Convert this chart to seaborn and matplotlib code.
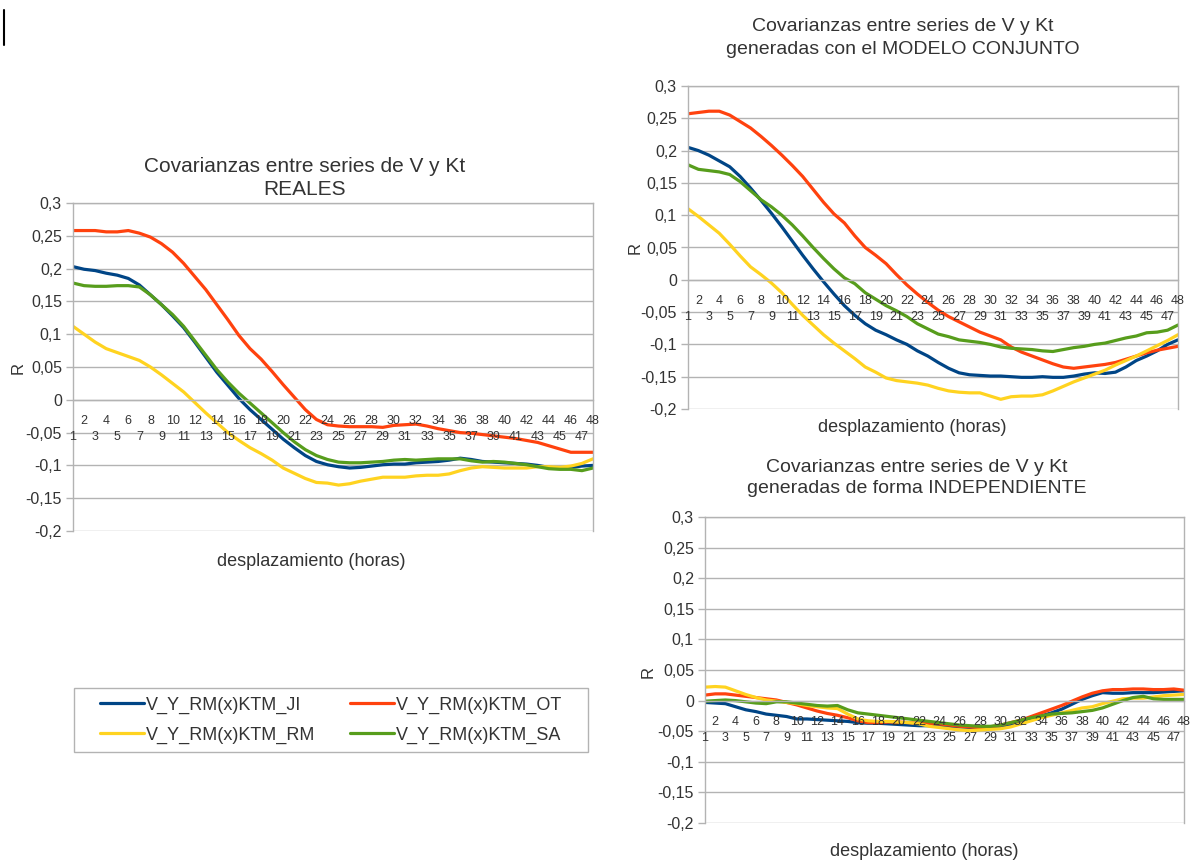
import numpy as np
import pandas as pd
import matplotlib
matplotlib.use("Agg")
import matplotlib.pyplot as plt
import seaborn as sns
from matplotlib.lines import Line2D
from matplotlib.patches import Rectangle

sns.set_style("white")
plt.rcParams['font.family'] = ['Liberation Sans', 'DejaVu Sans']

# ---------------- data ----------------
lags = list(range(1, 49))
series_names = ["V_Y_RM(x)KTM_JI", "V_Y_RM(x)KTM_OT", "V_Y_RM(x)KTM_RM", "V_Y_RM(x)KTM_SA"]
series_colors = ["#004586", "#ff420e", "#ffd320", "#579d1c"]
y_tick_values = [-0.2, -0.15, -0.1, -0.05, 0.0, 0.05, 0.1, 0.15, 0.2, 0.25, 0.3]
y_tick_labels = ["-0,2", "-0,15", "-0,1", "-0,05", "0", "0,05", "0,1", "0,15", "0,2", "0,25", "0,3"]

# REALES
reales_ji = [0.203, 0.199, 0.197, 0.193, 0.190, 0.185, 0.175, 0.160, 0.145, 0.128, 0.110, 0.088,
             0.065, 0.042, 0.022, 0.002, -0.015, -0.030, -0.045, -0.060, -0.073, -0.085, -0.094, -0.099,
             -0.102, -0.104, -0.103, -0.101, -0.099, -0.098, -0.098, -0.096, -0.095, -0.094, -0.092, -0.089,
             -0.091, -0.094, -0.095, -0.096, -0.097, -0.098, -0.100, -0.103, -0.104, -0.103, -0.101, -0.100]
reales_ot = [0.258, 0.258, 0.258, 0.256, 0.256, 0.258, 0.254, 0.248, 0.238, 0.225, 0.208, 0.188,
             0.168, 0.145, 0.122, 0.098, 0.078, 0.062, 0.043, 0.023, 0.004, -0.015, -0.030, -0.038,
             -0.040, -0.041, -0.041, -0.041, -0.042, -0.039, -0.038, -0.037, -0.040, -0.044, -0.047, -0.050,
             -0.051, -0.053, -0.055, -0.057, -0.059, -0.062, -0.065, -0.070, -0.075, -0.080, -0.080, -0.080]
reales_rm = [0.112, 0.100, 0.088, 0.078, 0.072, 0.066, 0.060, 0.050, 0.038, 0.025, 0.012, -0.004,
             -0.020, -0.035, -0.050, -0.062, -0.073, -0.082, -0.092, -0.104, -0.112, -0.120, -0.126, -0.127,
             -0.130, -0.128, -0.124, -0.121, -0.118, -0.118, -0.118, -0.116, -0.115, -0.115, -0.113, -0.108,
             -0.104, -0.102, -0.103, -0.104, -0.104, -0.104, -0.102, -0.102, -0.103, -0.101, -0.097, -0.090]
reales_sa = [0.178, 0.174, 0.173, 0.173, 0.174, 0.174, 0.172, 0.160, 0.145, 0.130, 0.112, 0.090,
             0.068, 0.046, 0.027, 0.010, -0.005, -0.020, -0.035, -0.050, -0.064, -0.076, -0.085, -0.091,
             -0.095, -0.096, -0.096, -0.095, -0.094, -0.092, -0.091, -0.092, -0.091, -0.090, -0.090, -0.090,
             -0.093, -0.095, -0.094, -0.095, -0.097, -0.099, -0.102, -0.105, -0.106, -0.106, -0.108, -0.104]

# MODELO CONJUNTO
conj_ji = [0.205, 0.200, 0.193, 0.184, 0.175, 0.160, 0.142, 0.123, 0.103, 0.082, 0.060, 0.038,
           0.017, -0.003, -0.022, -0.040, -0.055, -0.068, -0.078, -0.085, -0.093, -0.100, -0.110, -0.118,
           -0.128, -0.137, -0.144, -0.147, -0.148, -0.149, -0.149, -0.150, -0.151, -0.151, -0.150, -0.151,
           -0.151, -0.149, -0.146, -0.144, -0.145, -0.143, -0.135, -0.125, -0.118, -0.110, -0.100, -0.093]
conj_ot = [0.257, 0.259, 0.261, 0.261, 0.255, 0.245, 0.235, 0.222, 0.208, 0.193, 0.177, 0.160,
           0.140, 0.120, 0.102, 0.088, 0.068, 0.050, 0.038, 0.025, 0.008, -0.008, -0.022, -0.035,
           -0.047, -0.057, -0.065, -0.073, -0.081, -0.087, -0.093, -0.104, -0.112, -0.118, -0.124, -0.130,
           -0.135, -0.137, -0.135, -0.133, -0.131, -0.128, -0.123, -0.118, -0.113, -0.109, -0.106, -0.103]
conj_rm = [0.110, 0.098, 0.085, 0.072, 0.055, 0.037, 0.020, 0.008, -0.005, -0.020, -0.038, -0.055,
           -0.070, -0.085, -0.098, -0.110, -0.122, -0.135, -0.143, -0.152, -0.156, -0.158, -0.160, -0.163,
           -0.168, -0.172, -0.174, -0.175, -0.175, -0.180, -0.185, -0.181, -0.180, -0.180, -0.178, -0.172,
           -0.165, -0.158, -0.152, -0.146, -0.140, -0.132, -0.125, -0.118, -0.110, -0.102, -0.094, -0.085]
conj_sa = [0.178, 0.171, 0.169, 0.167, 0.163, 0.152, 0.138, 0.124, 0.113, 0.100, 0.085, 0.068,
           0.050, 0.033, 0.017, 0.003, -0.006, -0.020, -0.030, -0.040, -0.048, -0.057, -0.068, -0.076,
           -0.084, -0.088, -0.093, -0.095, -0.097, -0.100, -0.104, -0.106, -0.107, -0.108, -0.110, -0.111,
           -0.108, -0.105, -0.103, -0.100, -0.098, -0.094, -0.090, -0.087, -0.082, -0.081, -0.078, -0.070]

# INDEPENDIENTE
indep_ji = [-0.003, -0.004, -0.005, -0.010, -0.015, -0.018, -0.022, -0.024, -0.026, -0.030, -0.030, -0.031,
            -0.032, -0.033, -0.034, -0.036, -0.037, -0.037, -0.038, -0.039, -0.040, -0.041, -0.041, -0.042,
            -0.042, -0.043, -0.044, -0.044, -0.044, -0.043, -0.040, -0.035, -0.030, -0.025, -0.020, -0.014,
            -0.006, 0.002, 0.008, 0.013, 0.012, 0.012, 0.013, 0.013, 0.013, 0.014, 0.015, 0.016]
indep_ot = [0.009, 0.011, 0.011, 0.009, 0.007, 0.005, 0.003, 0.001, -0.003, -0.007, -0.012, -0.017,
            -0.021, -0.024, -0.028, -0.033, -0.036, -0.036, -0.035, -0.035, -0.036, -0.037, -0.037, -0.038,
            -0.040, -0.042, -0.043, -0.044, -0.043, -0.040, -0.036, -0.032, -0.026, -0.020, -0.014, -0.008,
            -0.001, 0.006, 0.012, 0.016, 0.018, 0.018, 0.019, 0.019, 0.018, 0.018, 0.019, 0.017]
indep_rm = [0.022, 0.023, 0.022, 0.016, 0.010, 0.005, 0.001, -0.001, -0.003, -0.005, -0.008, -0.010,
            -0.012, -0.013, -0.022, -0.030, -0.033, -0.034, -0.034, -0.035, -0.036, -0.038, -0.042, -0.044,
            -0.046, -0.048, -0.049, -0.048, -0.047, -0.046, -0.043, -0.038, -0.033, -0.028, -0.024, -0.020,
            -0.016, -0.012, -0.010, -0.005, -0.001, 0.003, 0.004, 0.004, 0.006, 0.008, 0.009, 0.010]
indep_sa = [-0.001, 0.000, 0.001, 0.000, -0.002, -0.004, -0.005, -0.002, -0.002, -0.004, -0.006, -0.008,
            -0.009, -0.008, -0.015, -0.020, -0.022, -0.024, -0.026, -0.028, -0.030, -0.032, -0.034, -0.036,
            -0.038, -0.040, -0.041, -0.042, -0.042, -0.040, -0.036, -0.032, -0.028, -0.025, -0.022, -0.021,
            -0.020, -0.018, -0.016, -0.012, -0.006, 0.000, 0.005, 0.007, 0.003, 0.002, 0.002, 0.002]

title_reales = "Covarianzas entre series de V y Kt\nREALES"
title_conj = "Covarianzas entre series de V y Kt\ngeneradas con el MODELO CONJUNTO"
title_indep = "Covarianzas entre series de V y Kt\ngeneradas de forma INDEPENDIENTE"
x_title = "desplazamiento (horas)"
y_title = "R"

# ---------------- figure ----------------
W, H = 1192, 861
fig = plt.figure(figsize=(W / 100, H / 100), dpi=100)
fig.patch.set_facecolor("white")

GRID = "#b3b3b3"
TXT = "#333333"
palette = dict(zip(series_names, series_colors))


def px_axes(l, t, r, b):
    return fig.add_axes([l / W, 1 - b / H, (r - l) / W, (b - t) / H])


def long_frame(ji, ot, rm, sa):
    parts = []
    for name, vals in zip(series_names, [ji, ot, rm, sa]):
        parts.append(pd.DataFrame({"lag": lags, "R": vals, "serie": name}))
    return pd.concat(parts, ignore_index=True)


def draw_panel(ax, df, label_fs=11.5, xt_fs=9, even_off=11.0, odd_off=22.5):
    sns.lineplot(data=df, x="lag", y="R", hue="serie", hue_order=series_names,
                 palette=palette, estimator=None, linewidth=2.3, legend=False, ax=ax)
    ax.set_xlim(1, 48)
    ax.set_ylim(-0.2, 0.3)
    ax.set_facecolor("white")
    ax.set_yticks(y_tick_values)
    ax.set_yticklabels(y_tick_labels, fontsize=label_fs, color=TXT)
    ax.yaxis.grid(True, color=GRID, linewidth=1)
    ax.xaxis.grid(False)
    ax.set_axisbelow(True)
    for s in ["left", "right", "top"]:
        ax.spines[s].set_color(GRID)
        ax.spines[s].set_linewidth(1)
    ax.spines["bottom"].set_position(("data", 0))
    ax.spines["bottom"].set_color(GRID)
    ax.spines["bottom"].set_linewidth(1)
    ax.set_xticks(lags)
    ax.set_xticklabels([])
    ax.tick_params(axis="x", length=5, direction="out", color=GRID, width=1)
    ax.tick_params(axis="y", length=5, direction="out", color=GRID, width=1, pad=3, left=True)
    ax.set_xlabel("")
    ax.set_ylabel("")
    for i in lags:
        off = even_off if i % 2 == 0 else odd_off
        ax.annotate(str(i), xy=(i, 0), xytext=(0, -off), textcoords="offset points",
                    ha="center", va="top", fontsize=xt_fs, color=TXT, annotation_clip=False)


# Left panel (REALES)
ax1 = px_axes(73, 203, 593, 531)
draw_panel(ax1, long_frame(reales_ji, reales_ot, reales_rm, reales_sa))
fig.text(305 / W, 1 - 178 / H, title_reales, ha="center", va="center", fontsize=15,
         color=TXT, linespacing=1.33)
fig.text(311 / W, 1 - 561 / H, x_title, ha="center", va="center", fontsize=13, color=TXT)
fig.text(18 / W, 1 - 368 / H, y_title, ha="center", va="center", fontsize=12, color=TXT, rotation=90)

# Top-right panel (MODELO CONJUNTO)
ax2 = px_axes(688, 86, 1178, 409)
draw_panel(ax2, long_frame(conj_ji, conj_ot, conj_rm, conj_sa))
fig.text(903 / W, 1 - 38 / H, title_conj, ha="center", va="center", fontsize=14,
         color=TXT, linespacing=1.42)
fig.text(912 / W, 1 - 428 / H, x_title, ha="center", va="center", fontsize=13, color=TXT)
fig.text(635 / W, 1 - 248 / H, y_title, ha="center", va="center", fontsize=12, color=TXT, rotation=90)

# Bottom-right panel (INDEPENDIENTE)
ax3 = px_axes(705, 517, 1184, 823)
draw_panel(ax3, long_frame(indep_ji, indep_ot, indep_rm, indep_sa))
fig.text(917 / W, 1 - 478 / H, title_indep, ha="center", va="center", fontsize=14,
         color=TXT, linespacing=1.25)
fig.text(924 / W, 1 - 851 / H, x_title, ha="center", va="center", fontsize=13, color=TXT)
fig.text(648 / W, 1 - 672 / H, y_title, ha="center", va="center", fontsize=12, color=TXT, rotation=90)

# Legend
handles = [Line2D([], [], color=c, linewidth=2.3) for c in series_colors]
order = [0, 2, 1, 3]
leg = fig.legend([handles[i] for i in order], [series_names[i] for i in order],
                 ncol=2, loc="center left", bbox_to_anchor=(100 / W, 1 - 720 / H),
                 frameon=False, fontsize=13, handlelength=2.45, handletextpad=0.1,
                 columnspacing=1.9, labelspacing=0.72, borderpad=0, borderaxespad=0)
for t in leg.get_texts():
    t.set_color(TXT)
fig.add_artist(Rectangle((74 / W, 1 - 752 / H), 514 / W, 64 / H, transform=fig.transFigure,
                         fill=False, edgecolor=GRID, linewidth=1))

# text cursor mark at top-left
fig.add_artist(Line2D([4 / W, 4 / W], [1 - 10 / H, 1 - 45 / H], transform=fig.transFigure,
                      color="black", linewidth=1.5))

fig.savefig("out.png", dpi=100, facecolor="white")
